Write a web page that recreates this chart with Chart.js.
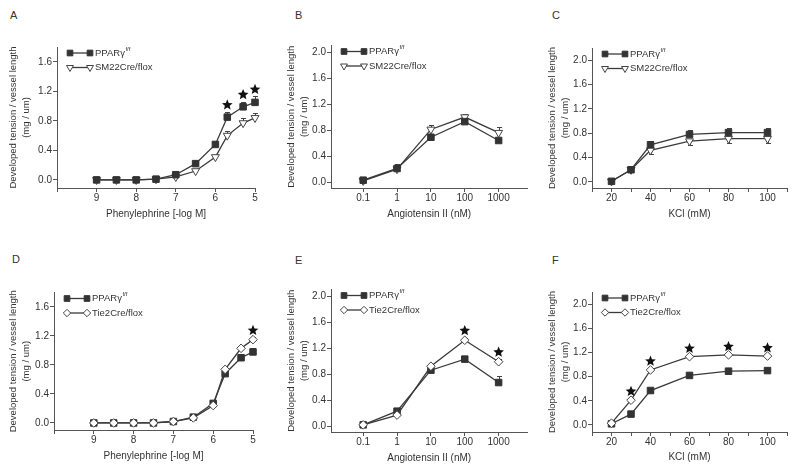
<!DOCTYPE html>
<html>
<head>
<meta charset="utf-8">
<script src="https://cdn.jsdelivr.net/npm/chart.js@4.4.0/dist/chart.umd.min.js"></script>
<style>
  body { margin: 0; width: 800px; height: 475px; background: #fff; position: relative; overflow: hidden;
         font-family: "Liberation Sans", Arial, sans-serif; }
  canvas { position: absolute; }
  .lab { position: absolute; font-size: 11px; line-height: 11px; color: #333; }
</style>
</head>
<body>
<div class="lab" style="left:10px;top:10px">A</div>
<div class="lab" style="left:295px;top:10px">B</div>
<div class="lab" style="left:552px;top:10px">C</div>
<div class="lab" style="left:12px;top:254px">D</div>
<div class="lab" style="left:295px;top:255px">E</div>
<div class="lab" style="left:552px;top:255px">F</div>

<canvas id="cA" width="265" height="240" style="left:0;top:0"></canvas>
<canvas id="cB" width="268" height="240" style="left:265px;top:0"></canvas>
<canvas id="cC" width="267" height="240" style="left:533px;top:0"></canvas>
<canvas id="cD" width="265" height="235" style="left:0;top:240px"></canvas>
<canvas id="cE" width="268" height="235" style="left:265px;top:240px"></canvas>
<canvas id="cF" width="267" height="235" style="left:533px;top:240px"></canvas>

<script>
// doses
const pheDose = [9, 8.5, 8, 7.5, 7, 6.5, 6, 5.7, 5.3, 5];
const angDose = [0.1, 1, 10, 100, 1000];
const kclDose = [20, 30, 40, 60, 80, 100];

const yTickVals = [0, 0.4, 0.8, 1.2, 1.6, 2.0];
const pheTicks = [10, 9, 8, 7, 6, 5];
const angTicks = [0.1, 1, 10, 100, 1000];
const kclTicks = [10, 20, 30, 40, 50, 60, 70, 80, 90, 100, 110];

// A: phenylephrine, PPARg f/f vs SM22Cre/flox
const aPpar = [0, 0, 0, 0.01, 0.07, 0.22, 0.48, 0.85, 0.99, 1.05];
const aPparErr = [0, 0, 0, 0, 0.02, 0.02, 0.03, 0.07, 0.07, 0.08];
const aSm22 = [0, 0, 0, 0.01, 0.04, 0.12, 0.31, 0.60, 0.77, 0.84];
const aSm22Err = [0, 0, 0, 0, 0.01, 0.02, 0.03, 0.06, 0.07, 0.06];
const aStars = [5.7, 5.3, 5];

// B: angiotensin II
const bPpar = [0.03, 0.21, 0.69, 0.93, 0.64];
const bPparErr = [0, 0.05, 0.05, 0.04, 0.03];
const bSm22 = [0.02, 0.20, 0.81, 1.00, 0.76];
const bSm22Err = [0, 0.08, 0.07, 0.04, 0.08];

// C: KCl
const cPpar = [0.01, 0.20, 0.61, 0.78, 0.81, 0.81];
const cPparErr = [0, 0.02, 0.07, 0.08, 0.07, 0.07];
const cSm22 = [0.01, 0.20, 0.52, 0.67, 0.71, 0.71];
const cSm22Err = [0, -0.02, -0.06, -0.07, -0.07, -0.07];

// D: phenylephrine, PPARg f/f vs Tie2Cre/flox
const dPpar = [0, 0, 0, 0, 0.02, 0.08, 0.27, 0.68, 0.90, 0.98];
const dPparErr = [0, 0, 0, 0, 0, 0.01, 0.02, 0.03, 0.03, 0.05];
const dTie2 = [0, 0, 0, 0, 0.02, 0.07, 0.24, 0.74, 1.03, 1.15];
const dTie2Err = [0, 0, 0, 0, 0, 0, 0.02, 0.03, 0.03, 0.03];
const dStars = [5];

// E: angiotensin II
const ePpar = [0.02, 0.23, 0.86, 1.03, 0.67];
const ePparErr = [0, 0.03, 0.03, 0.05, 0.10];
const eTie2 = [0.02, 0.17, 0.92, 1.32, 0.99];
const eTie2Err = [0, 0.02, 0.03, 0.04, 0.04];
const eStars = [100, 1000];

// F: KCl
const fPpar = [0.02, 0.18, 0.57, 0.82, 0.89, 0.90];
const fPparErr = [0, 0.01, 0.02, 0.02, 0.02, 0.02];
const fTie2 = [0.03, 0.41, 0.91, 1.13, 1.16, 1.14];
const fTie2Err = [0, 0.03, 0.03, 0.02, 0.02, 0.02];
const fStars = [30, 40, 60, 80, 100];

const FONT = '"Liberation Sans", Arial, sans-serif';
Chart.defaults.font.family = FONT;
Chart.defaults.color = '#333';

function pts(xs, ys) { return xs.map((x, i) => ({x: x, y: ys[i]})); }

function ppar(xs, ys, err, stars) {
  return {
    label: 'PPARγ', sup: 'f/f', data: pts(xs, ys), err: err, stars: stars || [],
    borderColor: '#3a3a3a', borderWidth: 1.3, pointStyle: 'rect', pointRadius: 4.6,
    pointBackgroundColor: '#333', pointBorderColor: '#333', pointBorderWidth: 1,
    tension: 0, clip: false, order: 1
  };
}
function mutant(label, style, xs, ys, err, stars) {
  return {
    label: label, data: pts(xs, ys), err: err, stars: stars || [],
    borderColor: '#3a3a3a', borderWidth: 1.3, pointStyle: style,
    rotation: style === 'triangle' ? 180 : 0, pointRadius: style === 'triangle' ? 4.6 : 4.3,
    pointBackgroundColor: '#fff', pointBorderColor: '#444', pointBorderWidth: 1,
    tension: 0, clip: false, order: style === 'triangle' ? 2 : 0
  };
}

function drawStar(ctx, cx, cy, R) {
  const r = R * 0.45;
  ctx.beginPath();
  for (let i = 0; i < 10; i++) {
    const a = -Math.PI / 2 + i * Math.PI / 5;
    const rr = i % 2 ? r : R;
    ctx.lineTo(cx + rr * Math.cos(a), cy + rr * Math.sin(a));
  }
  ctx.closePath();
  ctx.fill();
}

// error bars, stars and the little legend
const extras = {
  id: 'extras',
  beforeDatasetsDraw(chart) {
    const ctx = chart.ctx, x = chart.scales.x, y = chart.scales.y;
    ctx.save();
    ctx.strokeStyle = '#444';
    ctx.lineWidth = 1;
    chart.data.datasets.forEach(ds => {
      ds.err.forEach((e, j) => {
        if (!e) return;
        const p = ds.data[j];
        const px = Math.round(x.getPixelForValue(p.x)) + 0.5;
        const y0 = y.getPixelForValue(p.y), y1 = Math.round(y.getPixelForValue(p.y + e)) + 0.5;
        ctx.beginPath();
        ctx.moveTo(px, y0); ctx.lineTo(px, y1);
        ctx.moveTo(px - 2.5, y1); ctx.lineTo(px + 2.5, y1);
        ctx.stroke();
      });
    });
    ctx.restore();
  },
  afterDatasetsDraw(chart) {
    const ctx = chart.ctx, x = chart.scales.x, y = chart.scales.y;
    ctx.save();
    ctx.fillStyle = '#111';
    chart.data.datasets.forEach(ds => {
      ds.stars.forEach(sx => {
        const j = ds.data.findIndex(p => p.x === sx);
        const p = ds.data[j];
        const top = p.y + Math.max(ds.err[j], 0);
        drawStar(ctx, x.getPixelForValue(p.x), y.getPixelForValue(top) - 7, 5.6);
      });
    });
    ctx.restore();
  },
  afterDraw(chart) {
    const ctx = chart.ctx, ca = chart.chartArea;
    ctx.save();
    chart.data.datasets.forEach((ds, i) => {
      const ry = ca.top + 6 + i * 14.5;
      const m1 = ca.left + 13, m2 = ca.left + 33;
      ctx.strokeStyle = ds.borderColor;
      ctx.lineWidth = ds.borderWidth;
      ctx.beginPath(); ctx.moveTo(m1, ry); ctx.lineTo(m2, ry); ctx.stroke();
      ctx.fillStyle = ds.pointBackgroundColor;
      ctx.strokeStyle = ds.pointBorderColor;
      ctx.lineWidth = ds.pointBorderWidth;
      const po = {pointStyle: ds.pointStyle, rotation: ds.rotation || 0, radius: ds.pointRadius - 0.6, borderWidth: 1};
      Chart.helpers.drawPoint(ctx, po, m1, ry);
      Chart.helpers.drawPoint(ctx, po, m2, ry);
      ctx.fillStyle = '#333';
      ctx.textBaseline = 'middle';
      ctx.font = '9.5px ' + FONT;
      const tx = ca.left + 38;
      ctx.fillText(ds.label, tx, ry);
      if (ds.sup) {
        const w = ctx.measureText(ds.label).width;
        ctx.font = '6px ' + FONT;
        ctx.fillText(ds.sup, tx + w + 0.5, ry - 4);
      }
    });
    ctx.restore();
  }
};

function axisLook() {
  return {
    grid: {drawOnChartArea: false, drawTicks: true, tickLength: 4, color: '#555'},
    border: {color: '#555', width: 1}
  };
}

function xPhe() {
  return Object.assign(axisLook(), {
    type: 'linear', reverse: true, min: 5, max: 10,
    afterBuildTicks: s => { s.ticks = pheTicks.map(v => ({value: v})); },
    ticks: {font: {size: 10}, padding: 0, maxRotation: 0, callback: v => v === 10 ? '' : String(v)},
    title: {display: true, text: 'Phenylephrine [-log M]', font: {size: 10}}
  });
}
function xAng() {
  return Object.assign(axisLook(), {
    type: 'logarithmic', min: 0.0112, max: 7080,
    afterBuildTicks: s => { s.ticks = angTicks.map(v => ({value: v})); },
    ticks: {font: {size: 10}, padding: 0, maxRotation: 0, autoSkip: false, callback: v => String(v)},
    title: {display: true, text: 'Angiotensin II (nM)', font: {size: 10}}
  });
}
function xKcl() {
  return Object.assign(axisLook(), {
    type: 'linear', min: 10, max: 110,
    afterBuildTicks: s => { s.ticks = kclTicks.map(v => ({value: v})); },
    ticks: {font: {size: 10}, padding: 0, maxRotation: 0, autoSkip: false, callback: v => v % 20 === 0 ? String(v) : ''},
    title: {display: true, text: 'KCl (mM)', font: {size: 10}}
  });
}

function panel(id, g, xs, datasets) {
  const cv = document.getElementById(id);
  const W = cv.width, H = cv.height;
  xs.afterFit = s => { s.height = H - g.bottom; };
  xs.title.padding = {top: 0, bottom: g.xTitle};
  const lh = 9.5 * 1.45;
  new Chart(cv, {
    type: 'line',
    data: {datasets: datasets},
    options: {
      responsive: false, animation: false,
      layout: {padding: {left: 0, top: g.top, right: W - g.right, bottom: 0}},
      plugins: {legend: {display: false}, tooltip: {enabled: false}},
      scales: {
        x: xs,
        y: Object.assign(axisLook(), {
          min: g.ymin, max: g.ymax,
          afterBuildTicks: s => { s.ticks = yTickVals.filter(v => v <= g.ymax).map(v => ({value: v})); },
          afterFit: s => { s.width = g.left; },
          ticks: {font: {size: 10}, padding: 1, callback: v => Number(v).toFixed(1)},
          title: {display: true, text: ['Developed tension / vessel length', '(mg / um)'],
                  font: {size: 9.5, lineHeight: 1.45}, padding: {top: g.yTitle - lh / 2, bottom: 0}}
        })
      }
    },
    plugins: [extras]
  });
}

panel('cA', {left: 57, top: 47, right: 255, bottom: 188, ymin: -0.11, ymax: 1.8, yTitle: 13, xTitle: 20}, xPhe(), [
  ppar(pheDose, aPpar, aPparErr, aStars),
  mutant('SM22Cre/flox', 'triangle', pheDose, aSm22, aSm22Err)
]);
panel('cB', {left: 66, top: 45.5, right: 266, bottom: 188, ymin: -0.09, ymax: 2.1, yTitle: 26, xTitle: 20}, xAng(), [
  ppar(angDose, bPpar, bPparErr),
  mutant('SM22Cre/flox', 'triangle', angDose, bSm22, bSm22Err)
]);
panel('cC', {left: 59, top: 48, right: 254, bottom: 188, ymin: -0.1, ymax: 2.2, yTitle: 19, xTitle: 20}, xKcl(), [
  ppar(kclDose, cPpar, cPparErr),
  mutant('SM22Cre/flox', 'triangle', kclDose, cSm22, cSm22Err)
]);
panel('cD', {left: 54, top: 52.5, right: 253, bottom: 190, ymin: -0.097, ymax: 1.8, yTitle: 13, xTitle: 13}, xPhe(), [
  ppar(pheDose, dPpar, dPparErr),
  mutant('Tie2Cre/flox', 'rectRot', pheDose, dTie2, dTie2Err, dStars)
]);
panel('cE', {left: 66, top: 49.5, right: 266, bottom: 192, ymin: -0.09, ymax: 2.1, yTitle: 26, xTitle: 11}, xAng(), [
  ppar(angDose, ePpar, ePparErr),
  mutant('Tie2Cre/flox', 'rectRot', angDose, eTie2, eTie2Err, eStars)
]);
panel('cF', {left: 59, top: 52, right: 254, bottom: 192, ymin: -0.116, ymax: 2.2, yTitle: 19, xTitle: 12}, xKcl(), [
  ppar(kclDose, fPpar, fPparErr),
  mutant('Tie2Cre/flox', 'rectRot', kclDose, fTie2, fTie2Err, fStars)
]);
</script>
</body>
</html>
